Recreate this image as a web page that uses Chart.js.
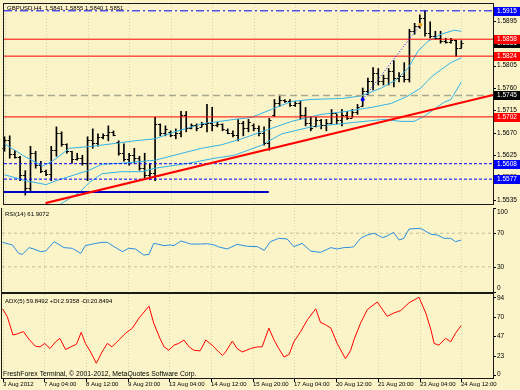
<!DOCTYPE html>
<html>
<head>
<meta charset="utf-8">
<title>GBPUSD H4</title>
<script src="https://cdn.jsdelivr.net/npm/chart.js@4.4.1/dist/chart.umd.min.js"></script>
<style>
  html, body { margin: 0; padding: 0; background: #faf4c8; }
  #wrap { position: relative; width: 520px; height: 390px; overflow: hidden; background: #faf4c8; }
  canvas { position: absolute; left: 0; }
</style>
</head>
<body>
<div id="wrap">
  <canvas id="cMain" width="520" height="208" style="top:0"></canvas>
  <canvas id="cRsi" width="520" height="85" style="top:208px"></canvas>
  <canvas id="cAdx" width="520" height="97" style="top:293px"></canvas>
</div>
<script>
// GBPUSD H4 bars, index 0 = 3 Aug 2012
const opens = [1.5640,1.5655,1.5628,1.5622,1.5585,1.5560,1.5630,1.5605,1.5594,1.5588,
  1.5636,1.5670,1.5648,1.5633,1.5618,1.5620,1.5610,1.5655,1.5650,1.5662,
  1.5665,1.5672,1.5652,1.5630,1.5618,1.5625,1.5620,1.5600,1.5585,1.5590,
  1.5688,1.5670,1.5672,1.5666,1.5670,1.5705,1.5680,1.5685,1.5682,1.5688,
  1.5690,1.5685,1.5688,1.5676,1.5670,1.5665,1.5690,1.5680,1.5686,1.5680,
  1.5670,1.5650,1.5705,1.5730,1.5735,1.5733,1.5726,1.5730,1.5705,1.5690,
  1.5683,1.5695,1.5685,1.5690,1.5710,1.5695,1.5705,1.5700,1.5712,1.5724,
  1.5755,1.5775,1.5790,1.5775,1.5780,1.5795,1.5780,1.5785,1.5778,1.5875,
  1.5885,1.5900,1.5870,1.5865,1.5860,1.5855,1.5852,1.5856,1.5841];
const highs = [1.5662,1.5664,1.5635,1.5623,1.5594,1.5643,1.5633,1.5613,1.5595,1.5643,
  1.5682,1.5672,1.5648,1.5633,1.5629,1.5625,1.5662,1.5678,1.5668,1.5668,
  1.5684,1.5674,1.5654,1.5648,1.5629,1.5639,1.5623,1.5629,1.5609,1.5701,
  1.5688,1.5684,1.5674,1.5678,1.5713,1.5713,1.5688,1.5688,1.5691,1.5727,
  1.5721,1.5691,1.5688,1.5678,1.5674,1.5697,1.5693,1.5697,1.5688,1.5684,
  1.5682,1.5699,1.5737,1.5746,1.5737,1.5737,1.5733,1.5733,1.5721,1.5703,
  1.5701,1.5697,1.5697,1.5717,1.5707,1.5717,1.5713,1.5717,1.5727,1.5760,
  1.5780,1.5801,1.5799,1.5786,1.5799,1.5815,1.5791,1.5811,1.5878,1.5890,
  1.5907,1.5915,1.5893,1.5874,1.5874,1.5860,1.5860,1.5856,1.5855];
const lows = [1.5633,1.5619,1.5619,1.5574,1.5545,1.5554,1.5599,1.5590,1.5584,1.5574,
  1.5623,1.5643,1.5629,1.5609,1.5615,1.5605,1.5574,1.5639,1.5643,1.5658,
  1.5654,1.5664,1.5625,1.5613,1.5605,1.5609,1.5595,1.5576,1.5576,1.5574,
  1.5664,1.5664,1.5662,1.5658,1.5662,1.5672,1.5678,1.5674,1.5682,1.5672,
  1.5674,1.5682,1.5674,1.5668,1.5662,1.5654,1.5664,1.5672,1.5674,1.5664,
  1.5645,1.5635,1.5703,1.5723,1.5731,1.5723,1.5723,1.5697,1.5684,1.5674,
  1.5682,1.5678,1.5674,1.5688,1.5688,1.5684,1.5697,1.5701,1.5707,1.5723,
  1.5746,1.5756,1.5766,1.5766,1.5766,1.5762,1.5772,1.5772,1.5772,1.5868,
  1.5880,1.5864,1.5860,1.5858,1.5850,1.5850,1.5850,1.5824,1.5840];
const closes = [1.5655,1.5628,1.5622,1.5585,1.5560,1.5630,1.5605,1.5594,1.5588,1.5636,
  1.5670,1.5648,1.5634,1.5618,1.5620,1.5610,1.5655,1.5650,1.5662,1.5665,
  1.5672,1.5666,1.5630,1.5618,1.5625,1.5620,1.5600,1.5585,1.5590,1.5688,
  1.5670,1.5678,1.5666,1.5670,1.5705,1.5680,1.5685,1.5680,1.5688,1.5690,
  1.5685,1.5688,1.5678,1.5670,1.5665,1.5690,1.5680,1.5692,1.5680,1.5670,
  1.5650,1.5695,1.5730,1.5735,1.5733,1.5726,1.5730,1.5705,1.5690,1.5680,
  1.5695,1.5685,1.5690,1.5710,1.5695,1.5705,1.5700,1.5712,1.5722,1.5755,
  1.5775,1.5790,1.5775,1.5780,1.5795,1.5780,1.5785,1.5778,1.5875,1.5885,
  1.5900,1.5870,1.5865,1.5860,1.5855,1.5852,1.5856,1.5841,1.5851];

// envelope lines (light blue), read at bar positions
const upperIdx = [0,3.5,7.3,9.2,12.5,16.9,20.7,25.1,29,32.8,38,44.3,47.6,51.4,55.3,59.1,64.9,68.7,72.6,75.4,77.7,79.7,81.6,84.1,86.6,88];
const upperVal = [1.5648,1.5625,1.5603,1.5613,1.5639,1.5643,1.5648,1.5654,1.5658,1.5672,1.5688,1.5697,1.5701,1.5717,1.5733,1.5737,1.5739,1.5744,1.5760,1.5776,1.5799,1.5835,1.5854,1.5868,1.5876,1.5874];
const midIdx = [0,4,8,10,13,16.3,18.8,22.6,29,34.2,38,41.8,45.7,49.5,55.3,61,65.8,70.6,74.5,77.7,80.2,82.2,84.1,86,88];
const midVal = [1.5586,1.5574,1.5566,1.5574,1.5584,1.5595,1.5607,1.5609,1.5615,1.5629,1.5639,1.5646,1.5658,1.5672,1.5693,1.5707,1.5713,1.5721,1.5729,1.5744,1.5760,1.5782,1.5797,1.5811,1.5821];
const lowerIdx = [0,5.4,9.2,11.1,14.4,16.3,18.8,22.6,26.5,29,35.5,40.5,44.3,49.5,53.4,59.1,67.4,73.1,76.4,78.9,80.8,82.7,84.6,86,88];
const lowerVal = [1.5517,1.5511,1.5517,1.5529,1.5550,1.5570,1.5588,1.5592,1.5592,1.5599,1.5609,1.5619,1.5625,1.5645,1.5668,1.5682,1.5691,1.5697,1.5693,1.5693,1.5703,1.5717,1.5731,1.5737,1.5772];

// RSI(14)
const rsiIdx = [0,1.9,3.1,3.8,5.1,6,7.3,8.3,9.9,11.8,13.4,15,15.9,17.9,19.1,20.1,21.4,23,24.2,25.5,
  27.1,28.1,29,30,31,32.2,32.9,34.2,35.1,36.1,38,39.3,40.6,41.5,43.1,45,47,48.9,50.2,51.4,
  53,54.6,55.9,57.5,59.1,61,63,64.2,65.5,66.8,67.4,68.7,70,71.3,72.9,73.8,75,76.1,77,78,
  80.2,82.2,83.4,84.7,86,86.9,88];
const rsiVal = [59.1,56.0,46.0,44.8,52.8,51.2,48.0,48.8,59.9,52.8,52.0,46.0,55.2,57.9,59.1,59.1,54.0,48.0,52.0,51.2,
  44.0,44.8,57.9,56.7,55.2,56.0,55.2,60.7,59.1,57.1,57.1,57.5,56.0,53.6,51.2,56.7,54.4,54.0,49.6,59.9,
  63.9,63.1,54.0,57.9,48.8,47.2,52.8,51.2,52.8,53.2,54.0,63.9,67.9,69.9,64.7,66.7,71.0,61.9,63.9,75.0,
  75.8,68.7,67.9,63.9,63.9,59.9,61.9];

// ADX(5)
const adxIdx = [0,0.9,2,2.8,4,5.1,6.3,7.2,8.1,9.1,10.2,11,12.1,13.1,14.2,15.1,15.9,16.9,18,19.1,
  20.1,21,22.3,23.6,24.9,26.2,28.1,29,30.2,31,31.9,32.9,33.8,34.8,35.8,36.7,37.9,39,40.2,41.5,
  42.2,42.8,44.1,45,46,47.6,48.9,49.8,51.1,52.1,53,54,55,55.9,57.2,58.5,60.1,61,62,63,
  64.2,65.8,66.8,67.4,68.7,70,71.9,73.8,75.1,76.4,78,79.9,81.2,82.2,82.8,83.7,85,86,86.9,88];
const adxVal = [80.0,70.9,48.2,49.5,52.4,42.9,34.6,33.8,38.0,31.8,40.0,44.1,30.5,33.8,37.1,51.5,38.0,27.6,13.9,27.6,
  38.0,33.8,42.1,50.3,56.5,68.9,83.3,62.7,44.1,33.8,29.7,35.9,38.0,42.1,33.8,29.7,28.9,42.1,35.9,27.6,
  23.5,27.6,40.8,31.8,27.6,31.8,33.8,33.8,56.5,42.1,31.8,21.5,24.8,40.0,52.4,66.8,80.0,63.5,60.6,56.5,
  38.0,19.4,29.7,42.1,62.7,79.2,88.3,70.9,75.0,77.9,87.4,94.0,75.0,54.4,38.0,35.9,44.1,40.0,50.3,59.8];

// axes
const timeTicks = [0,8,16,24,32,40,48,56,64,72,80,88];
const timeLabels = ['3 Aug 2012','7 Aug 04:00','8 Aug 12:00','9 Aug 20:00','13 Aug 04:00','14 Aug 12:00',
  '15 Aug 20:00','17 Aug 04:00','20 Aug 12:00','21 Aug 20:00','23 Aug 04:00','24 Aug 12:00'];
const priceTicks = [1.5895,1.5850,1.5805,1.5760,1.5715,1.5670,1.5625,1.5580,1.5535];
const rsiTicks = [100,70,30,0];
const rsiLevels = [70,30];
const adxTicks = [94,70,47,23,0];

// drawn objects
const redLevels = [1.5858,1.5824,1.5702];
const blueDashLevels = [1.5608,1.5577];
const topLevel = 1.5915;
const pivotLevel = 1.5745;
const supportLevel = 1.5551;
const supportEndIdx = 50.9;
const trendIdx = [7.9,94.1];
const trendVal = [1.5529,1.5746];
const zigIdx = [69,80.1];
const zigVal = [1.5737,1.5887];
const tagValues = [1.5915,1.5851,1.5858,1.5824,1.5745,1.5702,1.5608,1.5577];
const tagColors = ['#0000ff','#000000','#ff0000','#ff0000','#000000','#ff0000','#0000ff','#0000ff'];

const X_MIN = -0.1, X_MAX = 94.1;
const FONT = '"Liberation Sans", Arial, sans-serif';

function pts(xs, ys) { return xs.map((x, i) => ({ x: x, y: ys[i] })); }
function hline(v, x0, x1) { return [{ x: x0, y: v }, { x: x1, y: v }]; }
function lineSet(data, color, width, dash, order) {
  return { type: 'line', data: data, borderColor: color, borderWidth: width, borderDash: dash || [],
    pointRadius: 0, fill: false, tension: 0, order: order };
}

const baseOptions = (pad, yMin, yMax) => ({
  responsive: false, animation: false, events: [],
  layout: { padding: pad },
  plugins: { legend: { display: false }, tooltip: { enabled: false } },
  scales: {
    x: { type: 'linear', min: X_MIN, max: X_MAX, display: false, offset: false },
    y: { type: 'linear', min: yMin, max: yMax, display: false }
  }
});

// faint vertical grid + frame
const framePlugin = {
  id: 'frame',
  beforeDatasetsDraw(chart) {
    const { ctx, chartArea: a, scales: { x } } = chart;
    ctx.save();
    ctx.strokeStyle = 'rgba(150,150,110,0.35)';
    ctx.lineWidth = 1;
    ctx.setLineDash([1, 2]);
    timeTicks.forEach(t => {
      const px = Math.round(x.getPixelForValue(t)) + 0.5;
      ctx.beginPath(); ctx.moveTo(px, a.top); ctx.lineTo(px, a.bottom); ctx.stroke();
    });
    ctx.restore();
  },
  afterDraw(chart) {
    const { ctx, chartArea: a } = chart;
    ctx.save();
    ctx.strokeStyle = '#1a1a1a';
    ctx.lineWidth = 1;
    ctx.strokeRect(a.left - 0.5, a.top - 0.5, a.right - a.left + 1, a.bottom - a.top + 1);
    ctx.restore();
  }
};

function sideAxis(ticks, decimals, title, titleDy) {
  return {
    id: 'sideAxis',
    afterDraw(chart) {
      const { ctx, chartArea: a, scales: { y } } = chart;
      ctx.save();
      ctx.fillStyle = '#000';
      ctx.textAlign = 'left';
      ctx.textBaseline = 'middle';
      ctx.font = '6.5px ' + FONT;
      ticks.forEach(v => {
        let py = y.getPixelForValue(v);
        ctx.fillRect(a.right + 1, Math.round(py), 2, 1);
        py = Math.min(Math.max(py, a.top + 4), a.bottom - 4);
        ctx.fillText(v.toFixed(decimals), a.right + 4, py);
      });
      ctx.font = '6px ' + FONT;
      ctx.fillText(title, a.left + 3, a.top + titleDy);
      ctx.restore();
    }
  };
}

// open / close ticks of the OHLC bars
const ohlcTicks = {
  id: 'ohlcTicks',
  afterDatasetsDraw(chart) {
    const { ctx, scales: { x, y } } = chart;
    ctx.save();
    ctx.strokeStyle = '#000';
    ctx.lineWidth = 1;
    ctx.beginPath();
    for (let i = 0; i < opens.length; i++) {
      const px = x.getPixelForValue(i);
      const po = Math.round(y.getPixelForValue(opens[i])) + 0.5;
      const pc = Math.round(y.getPixelForValue(closes[i])) + 0.5;
      ctx.moveTo(px - 2.2, po); ctx.lineTo(px, po);
      ctx.moveTo(px, pc); ctx.lineTo(px + 2.2, pc);
    }
    ctx.stroke();
    ctx.restore();
  }
};

// coloured price tags on the right axis
const priceTags = {
  id: 'priceTags',
  afterDraw(chart) {
    const { ctx, chartArea: a, scales: { y } } = chart;
    ctx.save();
    ctx.font = '6.5px ' + FONT;
    ctx.textBaseline = 'middle';
    tagValues.forEach((v, k) => {
      const py = Math.round(y.getPixelForValue(v));
      ctx.fillStyle = tagColors[k];
      ctx.fillRect(a.right + 1, py - 4, 26, 9);
      ctx.fillStyle = '#fff';
      ctx.fillText(v.toFixed(4), a.right + 4, py + 0.5);
    });
    ctx.restore();
  }
};

// time axis under the last pane
const timeAxis = {
  id: 'timeAxis',
  afterDraw(chart) {
    const { ctx, chartArea: a, scales: { x } } = chart;
    ctx.save();
    ctx.fillStyle = '#000';
    ctx.font = '6px ' + FONT;
    ctx.textBaseline = 'middle';
    ctx.textAlign = 'left';
    timeTicks.forEach((t, k) => {
      const px = Math.round(x.getPixelForValue(t));
      ctx.fillRect(px, a.bottom + 1, 1, 3);
      ctx.fillText(timeLabels[k], px, a.bottom + 6.5);
    });
    ctx.font = '6.8px ' + FONT;
    ctx.fillText('FreshForex Terminal, \u00a9 2001-2012, MetaQuotes Software Corp.', a.left + 1, a.bottom - 4);
    ctx.restore();
  }
};

// ---- price pane
const bandColor = '#33b3e8';
new Chart(document.getElementById('cMain'), {
  type: 'line',
  data: {
    datasets: [
      lineSet(pts(trendIdx, trendVal), '#ff0000', 2.2, [], 1),
      Object.assign(lineSet(pts(zigIdx, zigVal), '#0000ff', 1, [1, 2], 1),
        { pointRadius: 2, pointBackgroundColor: ['#0000ff', '#f0a020'], pointBorderWidth: 0 }),
      lineSet(hline(topLevel, X_MIN, X_MAX), '#0000ff', 1, [8, 3, 2, 3], 2),
      ...redLevels.map(v => lineSet(hline(v, X_MIN, X_MAX), '#ff0000', 1, [], 2)),
      lineSet(hline(pivotLevel, X_MIN, X_MAX), '#a8a890', 1.6, [7, 4], 2),
      ...blueDashLevels.map(v => lineSet(hline(v, X_MIN, X_MAX), '#0000ff', 1, [3, 2], 2)),
      lineSet(hline(supportLevel, X_MIN, supportEndIdx), '#0000c8', 2, [], 2),
      lineSet(pts(upperIdx, upperVal), bandColor, 1, [], 4),
      lineSet(pts(midIdx, midVal), bandColor, 1, [], 4),
      lineSet(pts(lowerIdx, lowerVal), bandColor, 1, [], 4),
      {
        type: 'bar',
        data: highs.map((h, i) => ({ x: i, y: [lows[i], h] })),
        backgroundColor: '#000', borderWidth: 0, barThickness: 1, grouped: false, order: 5
      }
    ]
  },
  options: baseOptions({ left: 2, top: 2, right: 27, bottom: 1 }, 1.55271, 1.59287),
  plugins: [framePlugin, ohlcTicks, sideAxis(priceTicks, 4, 'GBPUSD,H4  1.5841 1.5855 1.5840 1.5851', 4.5), priceTags]
});

// ---- RSI pane
new Chart(document.getElementById('cRsi'), {
  type: 'line',
  data: {
    datasets: [
      lineSet(pts(rsiIdx, rsiVal), '#2b8fe0', 1, [], 1),
      ...rsiLevels.map(v => lineSet(hline(v, X_MIN, X_MAX), '#c0bca0', 1, [3, 3], 2))
    ]
  },
  options: baseOptions({ left: 2, top: 0, right: 27, bottom: 1 }, 0, 100),
  plugins: [framePlugin, sideAxis(rsiTicks, 0, 'RSI(14) 61.9072', 6)]
});

// ---- ADX pane
new Chart(document.getElementById('cAdx'), {
  type: 'line',
  data: {
    datasets: [lineSet(pts(adxIdx, adxVal), '#ff0000', 1, [], 1)]
  },
  options: baseOptions({ left: 2, top: 1, right: 27, bottom: 12 }, -4, 98),
  plugins: [framePlugin, sideAxis(adxTicks, 0, 'ADX(5) 59.8492 +DI:2.9358 -DI:20.8494', 7), timeAxis]
});
</script>
</body>
</html>
